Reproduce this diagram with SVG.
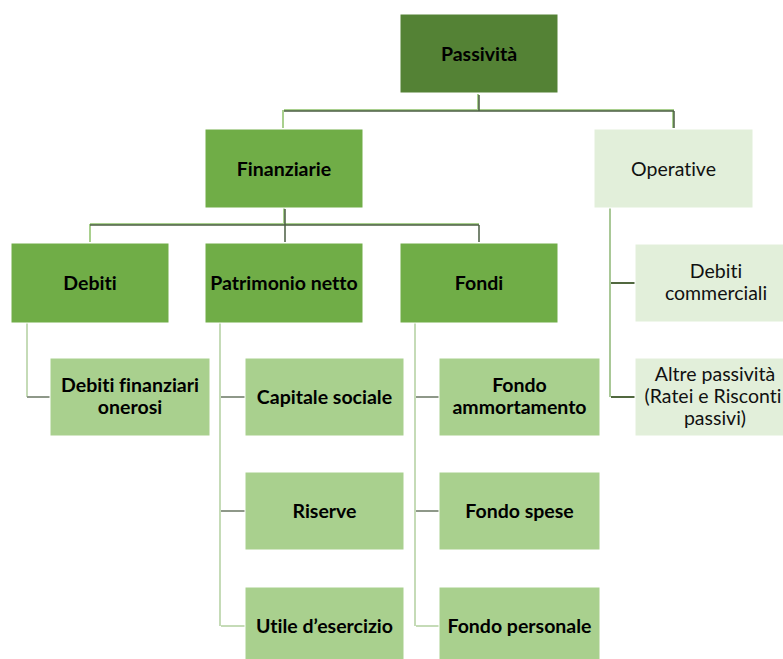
<svg xmlns="http://www.w3.org/2000/svg" width="783" height="659" viewBox="0 0 783 659">
  <style>
    .box { stroke: #ffffff; stroke-width: 1; }
    .dark { fill: #548235; }
    .mid { fill: #70AD47; }
    .leaf { fill: #A9D08E; }
    .pale { fill: #E2EFDA; }
    text { font-family: Lato, "Open Sans", "Liberation Sans", sans-serif; font-size: 19.5px; text-anchor: middle; fill: #000000; font-variant-ligatures: none; }
    .b { font-weight: bold; }
    .r { font-weight: normal; fill: #111111; }
    .hl { fill: none; stroke: #A9D08E; stroke-width: 2; }
    .ln { fill: none; stroke: #4B5E43; stroke-width: 1.5; }
    .cv { fill: none; stroke: #C5DBB7; stroke-width: 2; }
    .ch { fill: none; stroke: #8E9889; stroke-width: 2; }
    .ov { fill: none; stroke: #A9C897; stroke-width: 2; }
    .oh { fill: none; stroke: #51683F; stroke-width: 2; }
  </style>

  <rect width="783" height="659" fill="#ffffff"/>

  <g id="connectors">
    <!-- Passività -> Finanziarie / Operative -->
    <path class="hl" d="M478,94 V110 M284,110 H674 M283,110 V128 M673,110 V128"/>
    <path class="ln" d="M479,95 V111 M284,111 H674 M674,111 V128"/>
    <!-- Finanziarie -> Debiti / Patrimonio netto / Fondi -->
    <path class="hl" d="M284,208 V224 M90,224 H479 M90,224 V242"/>
    <path class="ln" d="M285,209 V242 M90,225 H479 M479,225 V242"/>
    <!-- Debiti -->
    <path class="cv" d="M27,323 V397"/>
    <path class="ch" d="M27,397 H50"/>
    <!-- Patrimonio netto -->
    <path class="cv" d="M220,323 V626"/>
    <path class="ch" d="M221,397 H245 M221,511 H245"/>
    <path class="cv" d="M221,626 H245"/>
    <!-- Fondi -->
    <path class="cv" d="M415,323 V626"/>
    <path class="ch" d="M416,397 H439 M416,511 H439"/>
    <path class="cv" d="M416,626 H439"/>
    <!-- Operative -->
    <path class="ov" d="M610,208 V397"/>
    <path class="oh" d="M611,283 H635 M611,397 H635"/>
  </g>

  <g id="passivita">
    <rect class="box dark" x="400" y="14" width="158" height="79"/>
    <text class="b" x="479" y="60.5">Passività</text>
  </g>

  <g id="finanziarie">
    <rect class="box mid" x="205" y="129" width="158" height="79"/>
    <text class="b" x="284" y="175.5">Finanziarie</text>
  </g>

  <g id="operative">
    <rect class="box pale" x="594" y="129" width="159" height="79"/>
    <text class="r" x="673.5" y="175.5">Operative</text>
  </g>

  <g id="debiti">
    <rect class="box mid" x="11" y="243" width="158" height="80"/>
    <text class="b" x="90" y="290">Debiti</text>
  </g>

  <g id="patrimonio-netto">
    <rect class="box mid" x="205" y="243" width="158" height="80"/>
    <text class="b" x="284" y="290">Patrimonio netto</text>
  </g>

  <g id="fondi">
    <rect class="box mid" x="400" y="243" width="158" height="80"/>
    <text class="b" x="479" y="290">Fondi</text>
  </g>

  <g id="debiti-finanziari-onerosi">
    <rect class="box leaf" x="50" y="358" width="160" height="78"/>
    <text class="b" x="130" y="392">Debiti finanziari</text>
    <text class="b" x="130" y="414">onerosi</text>
  </g>

  <g id="capitale-sociale">
    <rect class="box leaf" x="245" y="358" width="159" height="78"/>
    <text class="b" x="324.5" y="404">Capitale sociale</text>
  </g>

  <g id="riserve">
    <rect class="box leaf" x="245" y="472" width="159" height="78"/>
    <text class="b" x="324.5" y="518">Riserve</text>
  </g>

  <g id="utile-esercizio">
    <rect class="box leaf" x="245" y="587" width="159" height="78"/>
    <text class="b" x="324.5" y="633">Utile d’esercizio</text>
  </g>

  <g id="fondo-ammortamento">
    <rect class="box leaf" x="439" y="358" width="161" height="78"/>
    <text class="b" x="519.5" y="392">Fondo</text>
    <text class="b" x="519.5" y="414">ammortamento</text>
  </g>

  <g id="fondo-spese">
    <rect class="box leaf" x="439" y="472" width="161" height="78"/>
    <text class="b" x="519.5" y="518">Fondo spese</text>
  </g>

  <g id="fondo-personale">
    <rect class="box leaf" x="439" y="587" width="161" height="78"/>
    <text class="b" x="519.5" y="633">Fondo personale</text>
  </g>

  <g id="debiti-commerciali">
    <rect class="box pale" x="635" y="244" width="160" height="78"/>
    <text class="r" x="716" y="278">Debiti</text>
    <text class="r" x="716" y="300">commerciali</text>
  </g>

  <g id="altre-passivita">
    <rect class="box pale" x="635" y="358" width="160" height="78"/>
    <text class="r" x="715" y="381">Altre passività</text>
    <text class="r" x="713" y="403">(Ratei e Risconti</text>
    <text class="r" x="715" y="425">passivi)</text>
  </g>
</svg>
